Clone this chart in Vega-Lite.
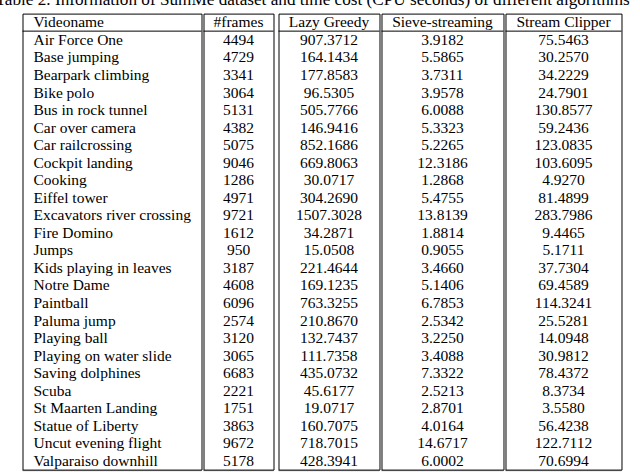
{
  "$schema": "https://vega.github.io/schema/vega-lite/v6.json",
  "background": "white",
  "padding": {"left": -4.5, "top": -9.4, "right": 4, "bottom": 0},
  "autosize": {"type": "pad"},
  "title": {
    "text": "Table 2. Information of SumMe dataset and time cost (CPU seconds) of different algorithms",
    "anchor": "start",
    "font": "Liberation Serif",
    "fontSize": 17.2,
    "fontWeight": "normal",
    "color": "#000",
    "baseline": "alphabetic",
    "dx": -26,
    "offset": -9
  },
  "datasets": {
    "rows": [
      {"Videoname": "Air Force One", "frames": 4494, "lazy": 907.3712, "sieve": 3.9182, "stream": 75.5463},
      {"Videoname": "Base jumping", "frames": 4729, "lazy": 164.1434, "sieve": 5.5865, "stream": 30.2570},
      {"Videoname": "Bearpark climbing", "frames": 3341, "lazy": 177.8583, "sieve": 3.7311, "stream": 34.2229},
      {"Videoname": "Bike polo", "frames": 3064, "lazy": 96.5305, "sieve": 3.9578, "stream": 24.7901},
      {"Videoname": "Bus in rock tunnel", "frames": 5131, "lazy": 505.7766, "sieve": 6.0088, "stream": 130.8577},
      {"Videoname": "Car over camera", "frames": 4382, "lazy": 146.9416, "sieve": 5.3323, "stream": 59.2436},
      {"Videoname": "Car railcrossing", "frames": 5075, "lazy": 852.1686, "sieve": 5.2265, "stream": 123.0835},
      {"Videoname": "Cockpit landing", "frames": 9046, "lazy": 669.8063, "sieve": 12.3186, "stream": 103.6095},
      {"Videoname": "Cooking", "frames": 1286, "lazy": 30.0717, "sieve": 1.2868, "stream": 4.9270},
      {"Videoname": "Eiffel tower", "frames": 4971, "lazy": 304.2690, "sieve": 5.4755, "stream": 81.4899},
      {"Videoname": "Excavators river crossing", "frames": 9721, "lazy": 1507.3028, "sieve": 13.8139, "stream": 283.7986},
      {"Videoname": "Fire Domino", "frames": 1612, "lazy": 34.2871, "sieve": 1.8814, "stream": 9.4465},
      {"Videoname": "Jumps", "frames": 950, "lazy": 15.0508, "sieve": 0.9055, "stream": 5.1711},
      {"Videoname": "Kids playing in leaves", "frames": 3187, "lazy": 221.4644, "sieve": 3.4660, "stream": 37.7304},
      {"Videoname": "Notre Dame", "frames": 4608, "lazy": 169.1235, "sieve": 5.1406, "stream": 69.4589},
      {"Videoname": "Paintball", "frames": 6096, "lazy": 763.3255, "sieve": 6.7853, "stream": 114.3241},
      {"Videoname": "Paluma jump", "frames": 2574, "lazy": 210.8670, "sieve": 2.5342, "stream": 25.5281},
      {"Videoname": "Playing ball", "frames": 3120, "lazy": 132.7437, "sieve": 3.2250, "stream": 14.0948},
      {"Videoname": "Playing on water slide", "frames": 3065, "lazy": 111.7358, "sieve": 3.4088, "stream": 30.9812},
      {"Videoname": "Saving dolphines", "frames": 6683, "lazy": 435.0732, "sieve": 7.3322, "stream": 78.4372},
      {"Videoname": "Scuba", "frames": 2221, "lazy": 45.6177, "sieve": 2.5213, "stream": 8.3734},
      {"Videoname": "St Maarten Landing", "frames": 1751, "lazy": 19.0717, "sieve": 2.8701, "stream": 3.5580},
      {"Videoname": "Statue of Liberty", "frames": 3863, "lazy": 160.7075, "sieve": 4.0164, "stream": 56.4238},
      {"Videoname": "Uncut evening flight", "frames": 9672, "lazy": 718.7015, "sieve": 14.6717, "stream": 122.7112},
      {"Videoname": "Valparaiso downhill", "frames": 5178, "lazy": 428.3941, "sieve": 6.0002, "stream": 70.6994}
    ]
  },
  "config": {
    "font": "Liberation Serif",
    "view": {"stroke": "#000", "strokeWidth": 1},
    "text": {"font": "Liberation Serif", "fontSize": 15.5, "color": "#000"},
    "rule": {"color": "#000", "strokeWidth": 1},
    "concat": {"spacing": 0}
  },
  "spacing": 3,
  "hconcat": [
    {
      "spacing": 0,
      "hconcat": [
        {
          "width": 179, "height": 456,
          "layer": [
            {"data": {"values": [{}]}, "mark": {"type": "text", "align": "left", "font": "Liberation Serif"},
             "encoding": {"x": {"value": 11}, "y": {"datum": "Videoname", "type": "nominal", "axis": null, "scale": {"domain": ["Videoname","Air Force One","Base jumping","Bearpark climbing","Bike polo","Bus in rock tunnel","Car over camera","Car railcrossing","Cockpit landing","Cooking","Eiffel tower","Excavators river crossing","Fire Domino","Jumps","Kids playing in leaves","Notre Dame","Paintball","Paluma jump","Playing ball","Playing on water slide","Saving dolphines","Scuba","St Maarten Landing","Statue of Liberty","Uncut evening flight","Valparaiso downhill"], "paddingInner": 0, "paddingOuter": 0}}, "text": {"value": "Videoname"}}},
            {"data": {"name": "rows"}, "mark": {"type": "text", "align": "left", "font": "Liberation Serif"},
             "encoding": {"x": {"value": 11}, "y": {"field": "Videoname", "type": "nominal", "axis": null}, "text": {"field": "Videoname"}}},
            {"data": {"values": [{}]}, "mark": "rule",
             "encoding": {"y": {"datum": "Air Force One", "type": "nominal", "bandPosition": 0}}},
            {"data": {"values": [{}]}, "mark": {"type": "rule", "strokeWidth": 1, "color": "#444", "yOffset": 1},
             "encoding": {"y": {"datum": "Valparaiso downhill", "type": "nominal", "bandPosition": 1}}}
          ]
        },
        {
          "width": 70, "height": 456,
          "layer": [
            {"data": {"values": [{}]}, "mark": {"type": "text", "font": "Liberation Serif"},
             "encoding": {"y": {"datum": "Videoname", "type": "nominal", "axis": null, "scale": {"domain": ["Videoname","Air Force One","Base jumping","Bearpark climbing","Bike polo","Bus in rock tunnel","Car over camera","Car railcrossing","Cockpit landing","Cooking","Eiffel tower","Excavators river crossing","Fire Domino","Jumps","Kids playing in leaves","Notre Dame","Paintball","Paluma jump","Playing ball","Playing on water slide","Saving dolphines","Scuba","St Maarten Landing","Statue of Liberty","Uncut evening flight","Valparaiso downhill"], "paddingInner": 0, "paddingOuter": 0}}, "text": {"value": "#frames"}}},
            {"data": {"name": "rows"}, "mark": {"type": "text", "font": "Liberation Serif"},
             "encoding": {"y": {"field": "Videoname", "type": "nominal", "axis": null}, "text": {"field": "frames", "type": "quantitative", "format": "d"}}},
            {"data": {"values": [{}]}, "mark": "rule",
             "encoding": {"y": {"datum": "Air Force One", "type": "nominal", "bandPosition": 0}}},
            {"data": {"values": [{}]}, "mark": {"type": "rule", "strokeWidth": 1, "color": "#444", "yOffset": 1},
             "encoding": {"y": {"datum": "Valparaiso downhill", "type": "nominal", "bandPosition": 1}}}
          ]
        }
      ]
    },
    {
      "spacing": 0,
      "hconcat": [
        {
          "width": 101, "height": 456,
          "layer": [
            {"data": {"values": [{}]}, "mark": {"type": "text", "font": "Liberation Serif"},
             "encoding": {"y": {"datum": "Videoname", "type": "nominal", "axis": null, "scale": {"domain": ["Videoname","Air Force One","Base jumping","Bearpark climbing","Bike polo","Bus in rock tunnel","Car over camera","Car railcrossing","Cockpit landing","Cooking","Eiffel tower","Excavators river crossing","Fire Domino","Jumps","Kids playing in leaves","Notre Dame","Paintball","Paluma jump","Playing ball","Playing on water slide","Saving dolphines","Scuba","St Maarten Landing","Statue of Liberty","Uncut evening flight","Valparaiso downhill"], "paddingInner": 0, "paddingOuter": 0}}, "text": {"value": "Lazy Greedy"}}},
            {"data": {"name": "rows"}, "mark": {"type": "text", "font": "Liberation Serif"},
             "encoding": {"y": {"field": "Videoname", "type": "nominal", "axis": null}, "text": {"field": "lazy", "type": "quantitative", "format": ".4f"}}},
            {"data": {"values": [{}]}, "mark": "rule",
             "encoding": {"y": {"datum": "Air Force One", "type": "nominal", "bandPosition": 0}}},
            {"data": {"values": [{}]}, "mark": {"type": "rule", "strokeWidth": 1, "color": "#444", "yOffset": 1},
             "encoding": {"y": {"datum": "Valparaiso downhill", "type": "nominal", "bandPosition": 1}}}
          ]
        },
        {
          "width": 122, "height": 456,
          "layer": [
            {"data": {"values": [{}]}, "mark": {"type": "text", "font": "Liberation Serif"},
             "encoding": {"y": {"datum": "Videoname", "type": "nominal", "axis": null, "scale": {"domain": ["Videoname","Air Force One","Base jumping","Bearpark climbing","Bike polo","Bus in rock tunnel","Car over camera","Car railcrossing","Cockpit landing","Cooking","Eiffel tower","Excavators river crossing","Fire Domino","Jumps","Kids playing in leaves","Notre Dame","Paintball","Paluma jump","Playing ball","Playing on water slide","Saving dolphines","Scuba","St Maarten Landing","Statue of Liberty","Uncut evening flight","Valparaiso downhill"], "paddingInner": 0, "paddingOuter": 0}}, "text": {"value": "Sieve-streaming"}}},
            {"data": {"name": "rows"}, "mark": {"type": "text", "font": "Liberation Serif"},
             "encoding": {"y": {"field": "Videoname", "type": "nominal", "axis": null}, "text": {"field": "sieve", "type": "quantitative", "format": ".4f"}}},
            {"data": {"values": [{}]}, "mark": "rule",
             "encoding": {"y": {"datum": "Air Force One", "type": "nominal", "bandPosition": 0}}},
            {"data": {"values": [{}]}, "mark": {"type": "rule", "strokeWidth": 1, "color": "#444", "yOffset": 1},
             "encoding": {"y": {"datum": "Valparaiso downhill", "type": "nominal", "bandPosition": 1}}}
          ]
        },
        {
          "width": 116, "height": 456,
          "layer": [
            {"data": {"values": [{}]}, "mark": {"type": "text", "font": "Liberation Serif"},
             "encoding": {"y": {"datum": "Videoname", "type": "nominal", "axis": null, "scale": {"domain": ["Videoname","Air Force One","Base jumping","Bearpark climbing","Bike polo","Bus in rock tunnel","Car over camera","Car railcrossing","Cockpit landing","Cooking","Eiffel tower","Excavators river crossing","Fire Domino","Jumps","Kids playing in leaves","Notre Dame","Paintball","Paluma jump","Playing ball","Playing on water slide","Saving dolphines","Scuba","St Maarten Landing","Statue of Liberty","Uncut evening flight","Valparaiso downhill"], "paddingInner": 0, "paddingOuter": 0}}, "text": {"value": "Stream Clipper"}}},
            {"data": {"name": "rows"}, "mark": {"type": "text", "font": "Liberation Serif"},
             "encoding": {"y": {"field": "Videoname", "type": "nominal", "axis": null}, "text": {"field": "stream", "type": "quantitative", "format": ".4f"}}},
            {"data": {"values": [{}]}, "mark": "rule",
             "encoding": {"y": {"datum": "Air Force One", "type": "nominal", "bandPosition": 0}}},
            {"data": {"values": [{}]}, "mark": {"type": "rule", "strokeWidth": 1, "color": "#444", "yOffset": 1},
             "encoding": {"y": {"datum": "Valparaiso downhill", "type": "nominal", "bandPosition": 1}}}
          ]
        }
      ]
    }
  ]
}
